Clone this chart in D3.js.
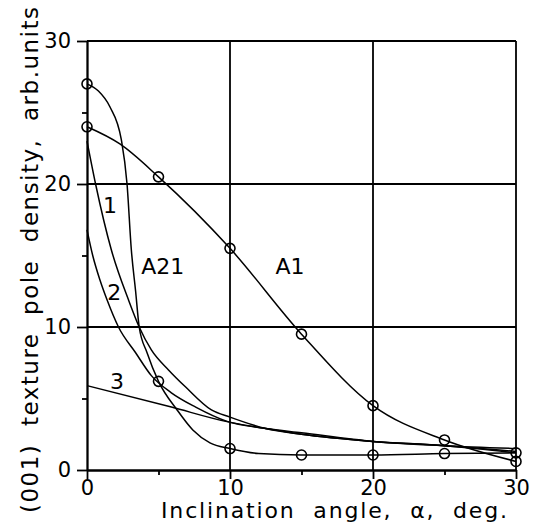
<!DOCTYPE html>
<html>
<head>
<meta charset="utf-8">
<script src="https://cdn.jsdelivr.net/npm/d3@7"></script>
<style>
  body { margin: 0; background: #fff; }
  text { font-family: "DejaVu Sans", sans-serif; fill: #000; }
</style>
</head>
<body>
<svg id="chart"></svg>
<script>
// measured points (circles)
const a1X = [0, 5, 10, 15, 20, 25, 30]
const a1Y = [24, 20.5, 15.5, 9.5, 4.5, 2.1, 0.6]
const a21X = [0, 5, 10, 15, 20, 25, 30]
const a21Y = [27, 6.2, 1.5, 1.05, 1.05, 1.15, 1.2]

// traced lines
const a1LineX = [0, 2.3, 5, 10, 15, 20, 25, 30]
const a1LineY = [24, 22.8, 20.5, 15.5, 9.5, 4.5, 2.1, 0.6]
const a21LineX = [0, 0.8, 1.6, 2.4, 2.8, 3.1, 3.4, 3.65, 4.2, 5, 6.3, 7.4, 8.6, 10, 12, 15, 20, 25, 30]
const a21LineY = [27, 26.5, 25.4, 23.1, 20, 15.4, 12.5, 10, 8.2, 6.2, 4.2, 2.8, 1.9, 1.5, 1.15, 1.05, 1.05, 1.15, 1.2]
const c1X = [0, 0.6, 1.7, 2.9, 3.65, 4.5, 5.7, 6.9, 8.7, 10, 12.5, 15, 20, 25, 30]
const c1Y = [23, 20, 15.4, 11.9, 10, 8.4, 7.0, 5.8, 4.2, 3.7, 2.9, 2.5, 2.0, 1.7, 1.3]
const c2X = [0, 0.4, 0.9, 1.4, 2.2, 3.4, 4.5, 5.9, 7.6, 9.8, 12.5, 15, 20, 25, 30]
const c2Y = [16.8, 15, 13.3, 11.9, 10, 8.2, 6.6, 5.4, 4.4, 3.4, 2.9, 2.5, 2.0, 1.7, 1.2]
const c3X = [0, 5.9, 9.7, 12.5, 15, 20, 25, 30]
const c3Y = [5.9, 4.4, 3.4, 2.9, 2.6, 2.0, 1.7, 1.5]

const labelText = ["1", "2", "3", "A21", "A1"]
const labelX = [1.6, 1.9, 2.1, 5.3, 14.2]
const labelY = [18.5, 12.4, 6.2, 14.2, 14.2]

const majorTicks = [0, 10, 20, 30]
const minorTicks = [5, 15, 25]
const gridTicks = [10, 20, 30]

const W = 536, H = 525
const x = d3.scaleLinear().domain([0, 30]).range([87, 516])
const y = d3.scaleLinear().domain([0, 30]).range([470, 41])

const svg = d3.select("#chart").attr("width", W).attr("height", H)

const zip = (xs, ys) => xs.map((v, i) => [v, ys[i]])

/*
  grid + frame
*/
const grid = svg.append("g").attr("stroke", "#000").attr("stroke-width", 1.8)
grid.selectAll(".vg").data(gridTicks).enter().append("line")
  .attr("x1", (d) => x(d)).attr("x2", (d) => x(d))
  .attr("y1", y(0)).attr("y2", y(30))
grid.selectAll(".hg").data(gridTicks).enter().append("line")
  .attr("y1", (d) => y(d)).attr("y2", (d) => y(d))
  .attr("x1", x(0)).attr("x2", x(30))

/*
  axes
*/
const styleAxis = (g) => {
  g.selectAll("path, line").attr("stroke", "#000").attr("stroke-width", 1.8)
  g.selectAll("text").attr("font-size", 21).attr("font-family", "DejaVu Sans")
}

svg.append("g").attr("transform", "translate(" + x(0) + ",0)")
  .call(d3.axisLeft(y).tickValues(majorTicks).tickSize(10).tickSizeOuter(0).tickPadding(6))
  .call(styleAxis)
svg.append("g").attr("transform", "translate(" + x(0) + ",0)")
  .call(d3.axisLeft(y).tickValues(minorTicks).tickSize(5).tickSizeOuter(0).tickFormat(""))
  .call(styleAxis)
svg.append("g").attr("transform", "translate(0," + y(0) + ")")
  .call(d3.axisBottom(x).tickValues(majorTicks).tickSize(9).tickSizeOuter(0).tickPadding(1))
  .call(styleAxis)
svg.append("g").attr("transform", "translate(0," + y(0) + ")")
  .call(d3.axisBottom(x).tickValues(minorTicks).tickSize(5).tickSizeOuter(0).tickFormat(""))
  .call(styleAxis)

/*
  curves
*/
const line = d3.line()
  .x((d) => x(d[0]))
  .y((d) => y(d[1]))
  .curve(d3.curveMonotoneX)

const series = [
  zip(a1LineX, a1LineY),
  zip(a21LineX, a21LineY),
  zip(c1X, c1Y),
  zip(c2X, c2Y),
  zip(c3X, c3Y),
]

svg.append("g")
  .selectAll("path")
  .data(series)
  .enter()
  .append("path")
  .attr("d", line)
  .attr("fill", "none")
  .attr("stroke", "#000")
  .attr("stroke-width", 1.5)

const markers = zip(a1X, a1Y).concat(zip(a21X, a21Y))
svg.append("g")
  .selectAll("circle")
  .data(markers)
  .enter()
  .append("circle")
  .attr("cx", (d) => x(d[0]))
  .attr("cy", (d) => y(d[1]))
  .attr("r", 5)
  .attr("fill", "none")
  .attr("stroke", "#000")
  .attr("stroke-width", 1.6)

/*
  curve labels
*/
svg.append("g")
  .selectAll("text")
  .data(labelText)
  .enter()
  .append("text")
  .attr("x", (d, i) => x(labelX[i]))
  .attr("y", (d, i) => y(labelY[i]))
  .attr("text-anchor", "middle")
  .attr("dominant-baseline", "central")
  .attr("font-size", 22)
  .text((d) => d)

/*
  titles
*/
svg.append("text")
  .attr("x", 334)
  .attr("y", 518)
  .attr("text-anchor", "middle")
  .attr("font-size", 22)
  .attr("textLength", 346)
  .attr("lengthAdjust", "spacing")
  .style("white-space", "pre")
  .text("Inclination  angle,  \u03b1,  deg.")

svg.append("text")
  .attr("transform", "translate(38,260) rotate(-90)")
  .attr("text-anchor", "middle")
  .attr("font-size", 23)
  .attr("textLength", 506)
  .attr("lengthAdjust", "spacing")
  .style("white-space", "pre")
  .text("(001)  texture  pole  density,  arb.units")
</script>
</body>
</html>
